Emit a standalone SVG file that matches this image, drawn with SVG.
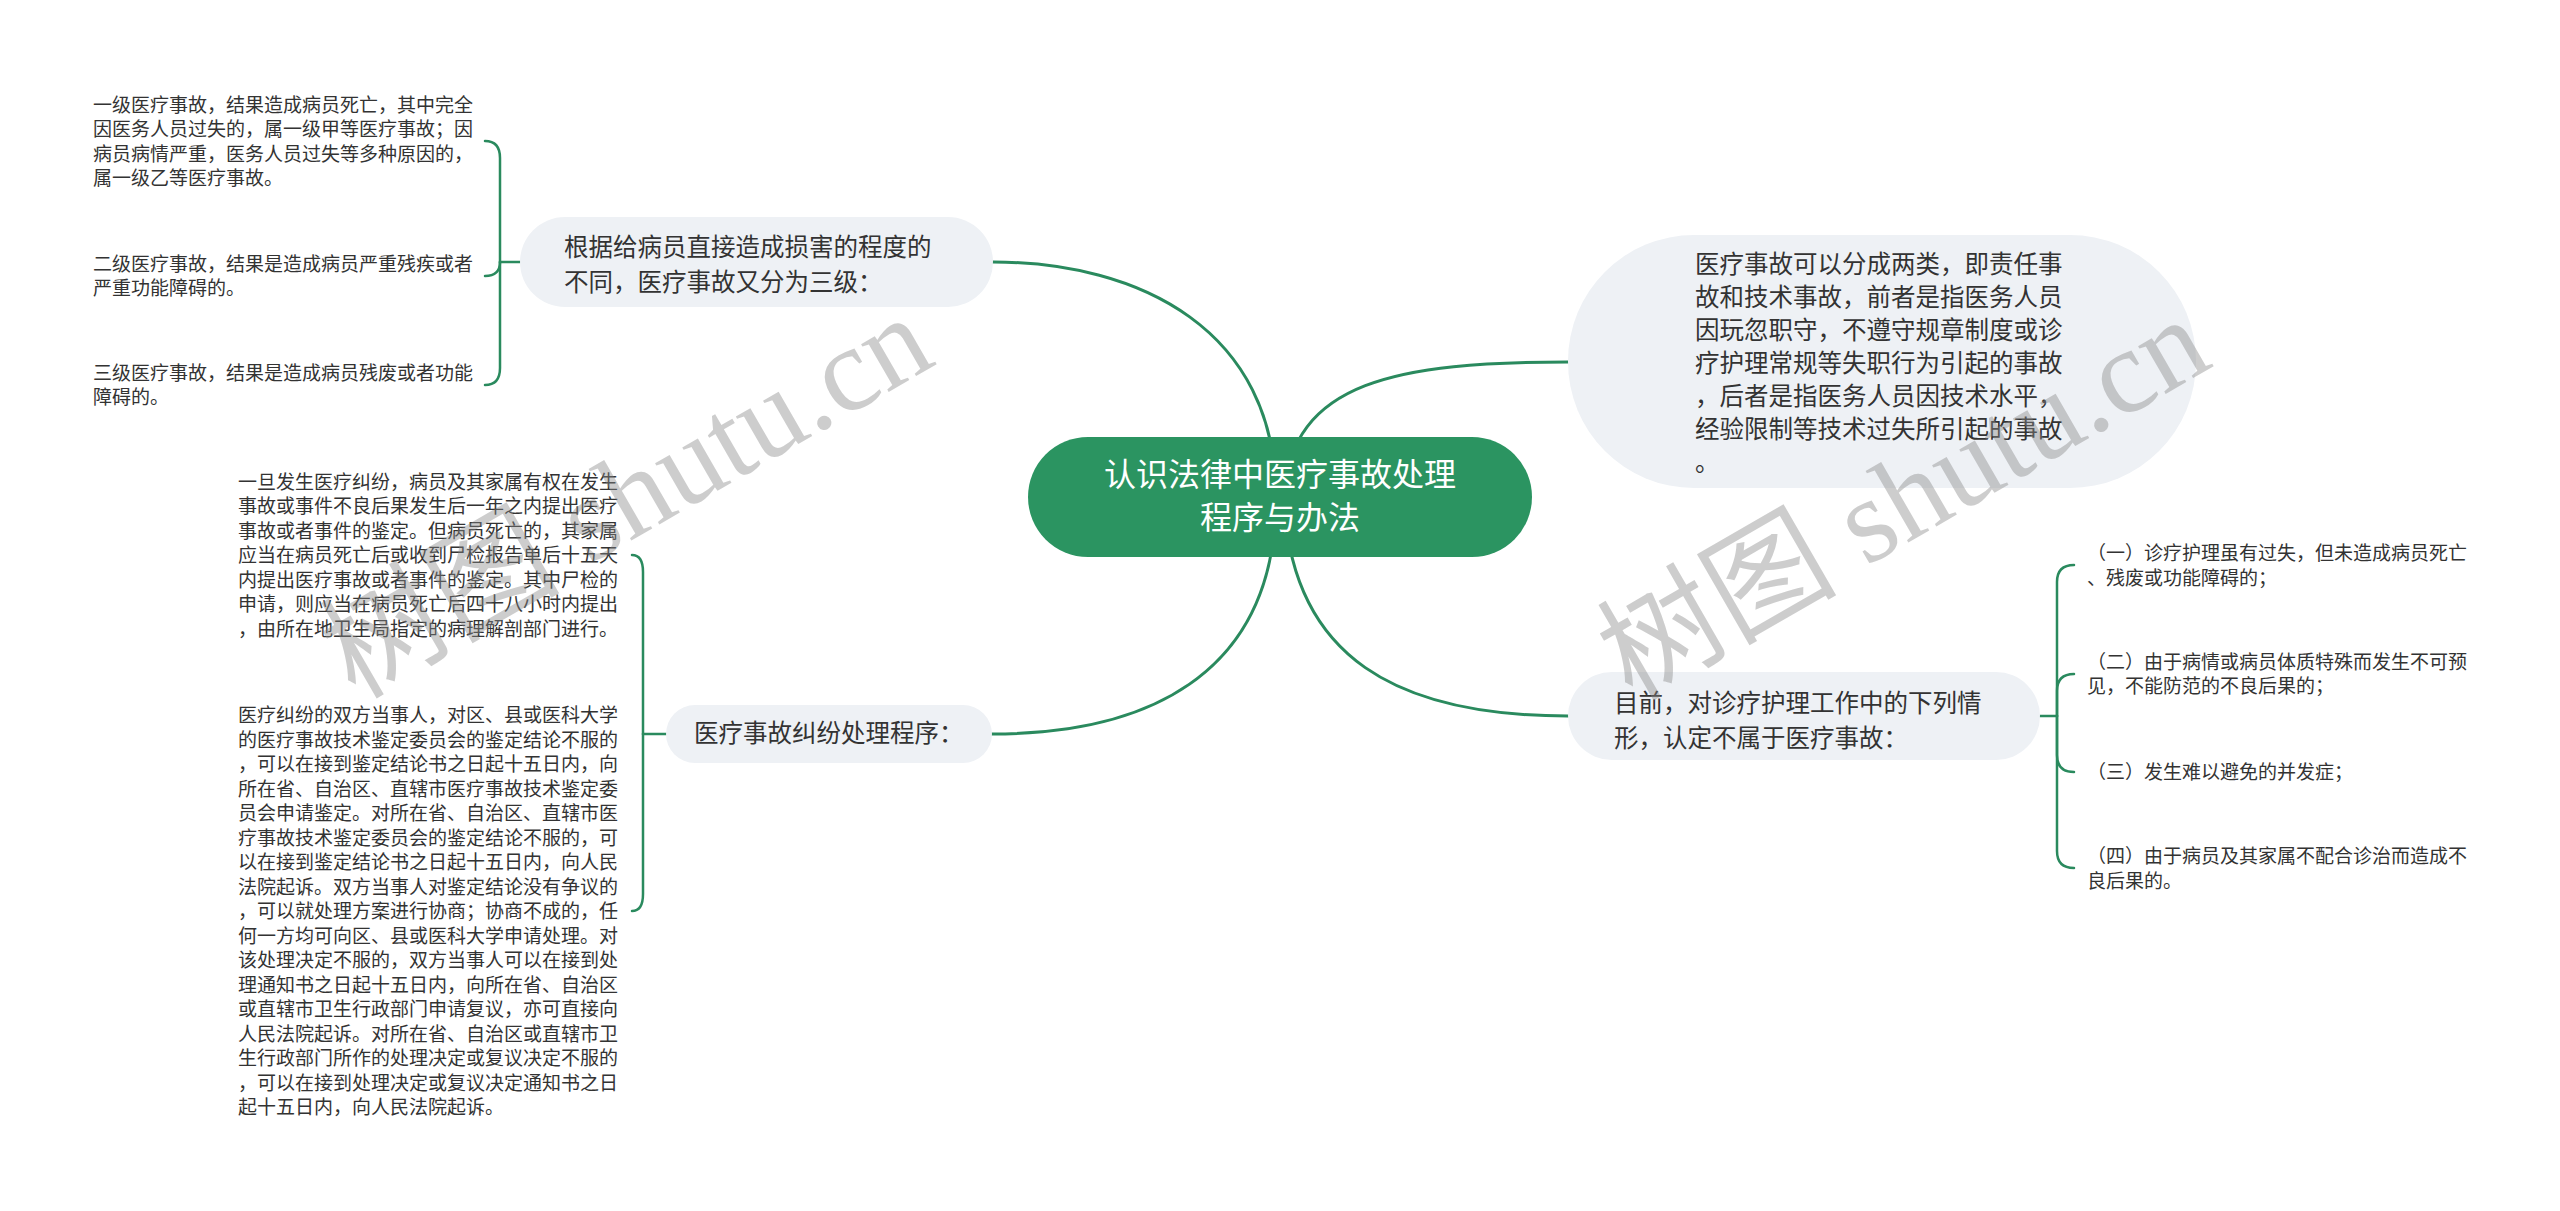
<svg xmlns="http://www.w3.org/2000/svg" width="2560" height="1211" viewBox="0 0 2560 1211">
<style>
.bg{fill:#ffffff}
.conn{fill:none;stroke:#2a8a5e;stroke-width:3;stroke-linecap:round}
.brace{fill:none;stroke:#2a8a5e;stroke-width:2.5;stroke-linecap:round}
.root{fill:#2b9461}
.sub{fill:#eef1f5}
.rt{font-family:"Noto Sans CJK SC","Noto Sans",sans-serif;font-size:32px;fill:#ffffff;text-anchor:middle}
.st{font-family:"Noto Sans CJK SC","Noto Sans",sans-serif;font-size:24.5px;fill:#333333}
.lt{font-family:"Noto Sans CJK SC","Noto Sans",sans-serif;font-size:19px;fill:#333333}
.wm{font-family:"Liberation Serif","Noto Sans CJK SC",serif;font-size:120px;fill:#888888;fill-opacity:0.42}
</style>
<rect class="bg" x="0" y="0" width="2560" height="1211"/>

<g id="connectors">
  <path class="conn" d="M1276,497 C1276,330 1140,262 993,262"/>
  <path class="conn" d="M1284,497 C1290,380 1400,362 1568,362"/>
  <path class="conn" d="M1276,497 C1276,680 1140,734 992,734"/>
  <path class="conn" d="M1284,497 C1290,660 1400,716 1568,716"/>
  <!-- left top brace -->
  <path class="brace" d="M520,262 L500,262"/>
  <path class="brace" d="M500,262 L500,158 Q500,141 485,141"/>
  <path class="brace" d="M500,262 Q500,276 485,276"/>
  <path class="brace" d="M500,262 L500,368 Q500,385 485,385"/>
  <!-- left bottom brace -->
  <path class="brace" d="M666,734 L643,734"/>
  <path class="brace" d="M643,734 L643,572 Q643,555 632,555"/>
  <path class="brace" d="M643,734 L643,894 Q643,911 632,911"/>
  <!-- right brace -->
  <path class="brace" d="M2040,716 L2057,716"/>
  <path class="brace" d="M2057,716 L2057,582 Q2057,565 2074,565"/>
  <path class="brace" d="M2057,716 L2057,691 Q2057,674 2074,674"/>
  <path class="brace" d="M2057,716 L2057,755 Q2057,772 2074,772"/>
  <path class="brace" d="M2057,716 L2057,851 Q2057,868 2074,868"/>
</g>

<g id="root">
  <rect class="root" x="1028" y="437" width="504" height="120" rx="60"/>
  <text class="rt" x="1280" y="486">认识法律中医疗事故处理</text>
  <text class="rt" x="1280" y="529">程序与办法</text>
</g>

<g id="node-levels">
  <rect class="sub" x="520" y="217" width="473" height="90" rx="45"/>
  <text class="st" x="564" y="255.5">根据给病员直接造成损害的程度的</text>
  <text class="st" x="564" y="290.5">不同，医疗事故又分为三级：</text>
</g>

<g id="node-procedure">
  <rect class="sub" x="666" y="705" width="326" height="58" rx="29"/>
  <text class="st" x="694" y="742">医疗事故纠纷处理程序：</text>
</g>

<g id="node-types">
  <rect class="sub" x="1568" y="235" width="628" height="253" rx="126"/>
  <text class="st" x="1695" y="272.5">医疗事故可以分成两类，即责任事</text>
  <text class="st" x="1695" y="305.5">故和技术事故，前者是指医务人员</text>
  <text class="st" x="1695" y="338.5">因玩忽职守，不遵守规章制度或诊</text>
  <text class="st" x="1695" y="371.5">疗护理常规等失职行为引起的事故</text>
  <text class="st" x="1695" y="404.5">，后者是指医务人员因技术水平，</text>
  <text class="st" x="1695" y="437.5">经验限制等技术过失所引起的事故</text>
  <text class="st" x="1695" y="470.5">。</text>
</g>

<g id="node-exclusions">
  <rect class="sub" x="1568" y="672" width="472" height="88" rx="44"/>
  <text class="st" x="1614" y="711.5">目前，对诊疗护理工作中的下列情</text>
  <text class="st" x="1614" y="746.5">形，认定不属于医疗事故：</text>
</g>

<g id="leaf-level1">
  <text class="lt" x="93" y="111.75">一级医疗事故，结果造成病员死亡，其中完全</text>
  <text class="lt" x="93" y="136.25">因医务人员过失的，属一级甲等医疗事故；因</text>
  <text class="lt" x="93" y="160.75">病员病情严重，医务人员过失等多种原因的，</text>
  <text class="lt" x="93" y="185.25">属一级乙等医疗事故。</text>
</g>
<g id="leaf-level2">
  <text class="lt" x="93" y="270.75">二级医疗事故，结果是造成病员严重残疾或者</text>
  <text class="lt" x="93" y="295.25">严重功能障碍的。</text>
</g>
<g id="leaf-level3">
  <text class="lt" x="93" y="379.75">三级医疗事故，结果是造成病员残废或者功能</text>
  <text class="lt" x="93" y="404.25">障碍的。</text>
</g>

<g id="leaf-appraisal">
  <text class="lt" x="238" y="488.5">一旦发生医疗纠纷，病员及其家属有权在发生</text>
  <text class="lt" x="238" y="513">事故或事件不良后果发生后一年之内提出医疗</text>
  <text class="lt" x="238" y="537.5">事故或者事件的鉴定。但病员死亡的，其家属</text>
  <text class="lt" x="238" y="562">应当在病员死亡后或收到尸检报告单后十五天</text>
  <text class="lt" x="238" y="586.5">内提出医疗事故或者事件的鉴定。其中尸检的</text>
  <text class="lt" x="238" y="611">申请，则应当在病员死亡后四十八小时内提出</text>
  <text class="lt" x="238" y="635.5">，由所在地卫生局指定的病理解剖部门进行。</text>
</g>

<g id="leaf-dispute">
  <text class="lt" x="238" y="722">医疗纠纷的双方当事人，对区、县或医科大学</text>
  <text class="lt" x="238" y="746.5">的医疗事故技术鉴定委员会的鉴定结论不服的</text>
  <text class="lt" x="238" y="771">，可以在接到鉴定结论书之日起十五日内，向</text>
  <text class="lt" x="238" y="795.5">所在省、自治区、直辖市医疗事故技术鉴定委</text>
  <text class="lt" x="238" y="820">员会申请鉴定。对所在省、自治区、直辖市医</text>
  <text class="lt" x="238" y="844.5">疗事故技术鉴定委员会的鉴定结论不服的，可</text>
  <text class="lt" x="238" y="869">以在接到鉴定结论书之日起十五日内，向人民</text>
  <text class="lt" x="238" y="893.5">法院起诉。双方当事人对鉴定结论没有争议的</text>
  <text class="lt" x="238" y="918">，可以就处理方案进行协商；协商不成的，任</text>
  <text class="lt" x="238" y="942.5">何一方均可向区、县或医科大学申请处理。对</text>
  <text class="lt" x="238" y="967">该处理决定不服的，双方当事人可以在接到处</text>
  <text class="lt" x="238" y="991.5">理通知书之日起十五日内，向所在省、自治区</text>
  <text class="lt" x="238" y="1016">或直辖市卫生行政部门申请复议，亦可直接向</text>
  <text class="lt" x="238" y="1040.5">人民法院起诉。对所在省、自治区或直辖市卫</text>
  <text class="lt" x="238" y="1065">生行政部门所作的处理决定或复议决定不服的</text>
  <text class="lt" x="238" y="1089.5">，可以在接到处理决定或复议决定通知书之日</text>
  <text class="lt" x="238" y="1114">起十五日内，向人民法院起诉。</text>
</g>

<g id="leaf-ex1">
  <text class="lt" x="2087" y="560">（一）诊疗护理虽有过失，但未造成病员死亡</text>
  <text class="lt" x="2087" y="584.5">、残废或功能障碍的；</text>
</g>
<g id="leaf-ex2">
  <text class="lt" x="2087" y="668.75">（二）由于病情或病员体质特殊而发生不可预</text>
  <text class="lt" x="2087" y="693.25">见，不能防范的不良后果的；</text>
</g>
<g id="leaf-ex3">
  <text class="lt" x="2087" y="779">（三）发生难以避免的并发症；</text>
</g>
<g id="leaf-ex4">
  <text class="lt" x="2087" y="863">（四）由于病员及其家属不配合诊治而造成不</text>
  <text class="lt" x="2087" y="887.5">良后果的。</text>
</g>

<g id="watermarks">
  <text class="wm" transform="translate(355,700) rotate(-30)">树图 shutu.cn</text>
  <text class="wm" transform="translate(1632,702) rotate(-30)">树图 shutu.cn</text>
</g>
</svg>
